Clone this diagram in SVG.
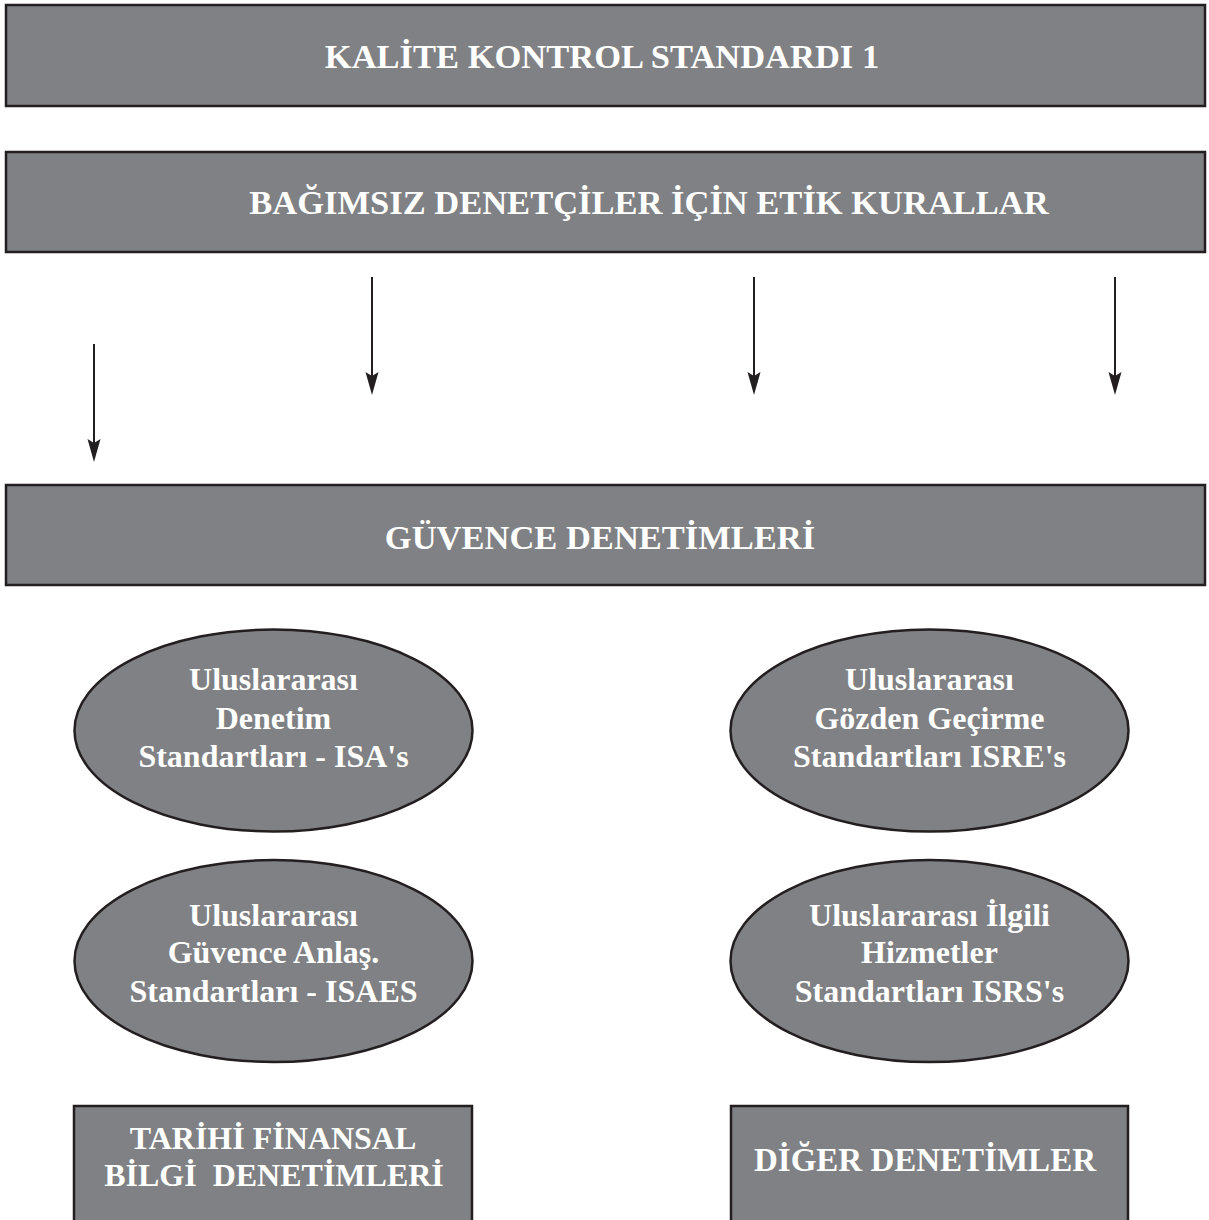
<svg xmlns="http://www.w3.org/2000/svg" width="1209" height="1220" viewBox="0 0 1209 1220">
<defs>
<style>
.box{fill:#808184;stroke:#231f20;stroke-width:2.5}
.t{font-family:"Liberation Serif","Times New Roman",serif;font-weight:bold;fill:#ffffff;text-anchor:middle}
.big{font-size:34.5px}
.mid{font-size:32px}
.conn{stroke:#231f20;stroke-width:2;fill:none}
.head{fill:#231f20}
</style>
</defs>
<rect width="1209" height="1220" fill="#ffffff"/>
<g id="kalite">
<rect class="box" x="6" y="5" width="1199" height="101"/>
<text class="t big" x="602" y="68">KALİTE KONTROL STANDARDI 1</text>
</g>
<g id="etik">
<rect class="box" x="6" y="152" width="1199" height="100"/>
<text class="t big" x="649" y="214">BAĞIMSIZ DENETÇİLER İÇİN ETİK KURALLAR</text>
</g>
<g id="connectors">
<line class="conn" x1="94" y1="344" x2="94" y2="445"/>
<path class="head" d="M87.5,439 L94,443 L100.5,439 L94,462 Z"/>
<line class="conn" x1="372" y1="277" x2="372" y2="378"/>
<path class="head" d="M365.5,372 L372,376 L378.5,372 L372,395 Z"/>
<line class="conn" x1="754" y1="277" x2="754" y2="378"/>
<path class="head" d="M747.5,372 L754,376 L760.5,372 L754,395 Z"/>
<line class="conn" x1="1115" y1="277" x2="1115" y2="378"/>
<path class="head" d="M1108.5,372 L1115,376 L1121.5,372 L1115,395 Z"/>
</g>
<g id="guvence">
<rect class="box" x="6" y="485" width="1199" height="100"/>
<text class="t big" x="600" y="549">GÜVENCE DENETİMLERİ</text>
</g>
<g id="isa">
<ellipse class="box" cx="273.5" cy="730.5" rx="199" ry="101"/>
<text class="t mid" x="273.5" y="690">Uluslararası</text>
<text class="t mid" x="273.5" y="729">Denetim</text>
<text class="t mid" x="273.5" y="767">Standartları - ISA's</text>
</g>
<g id="isre">
<ellipse class="box" cx="929.5" cy="730.5" rx="199" ry="101"/>
<text class="t mid" x="929.5" y="690">Uluslararası</text>
<text class="t mid" x="929.5" y="729">Gözden Geçirme</text>
<text class="t mid" x="929.5" y="767">Standartları ISRE's</text>
</g>
<g id="isaes">
<ellipse class="box" cx="273.5" cy="961" rx="199" ry="101"/>
<text class="t mid" x="273.5" y="926">Uluslararası</text>
<text class="t mid" x="273.5" y="963">Güvence Anlaş.</text>
<text class="t mid" x="273.5" y="1002">Standartları - ISAES</text>
</g>
<g id="isrs">
<ellipse class="box" cx="929.5" cy="961" rx="199" ry="101"/>
<text class="t mid" x="929.5" y="926">Uluslararası İlgili</text>
<text class="t mid" x="929.5" y="963">Hizmetler</text>
<text class="t mid" x="929.5" y="1002">Standartları ISRS's</text>
</g>
<g id="tarihi">
<rect class="box" x="74" y="1106" width="398" height="130"/>
<text class="t mid" x="273" y="1149">TARİHİ FİNANSAL</text>
<text class="t mid" x="274" y="1186" xml:space="preserve">BİLGİ  DENETİMLERİ</text>
</g>
<g id="diger">
<rect class="box" x="731" y="1106" width="397" height="130"/>
<text class="t" style="font-size:33px" x="925" y="1171">DİĞER DENETİMLER</text>
</g>
</svg>
